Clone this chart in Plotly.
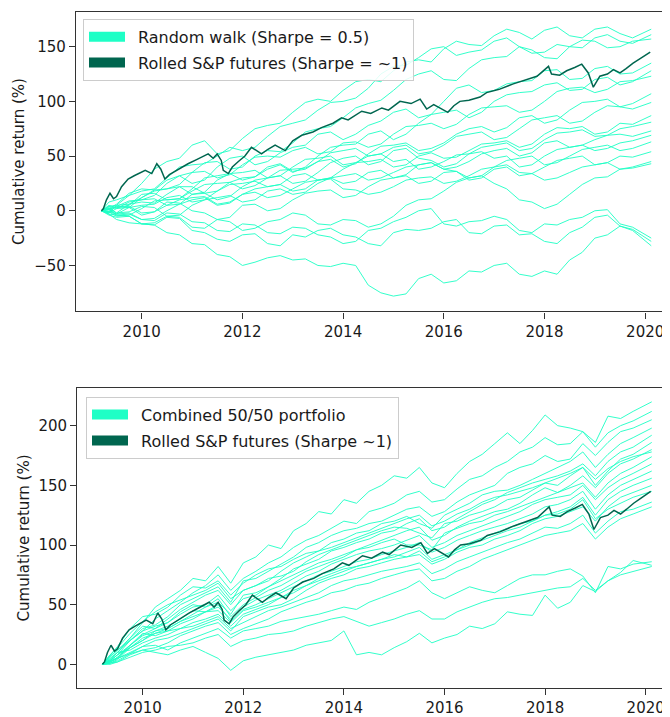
import plotly.graph_objects as go

# ---------------- data ----------------
SP_YEARS = [2009.20, 2009.24, 2009.30, 2009.37, 2009.44, 2009.50, 2009.60, 2009.73, 2009.85, 2010.07,
            2010.20, 2010.30, 2010.38, 2010.46, 2010.55, 2010.66, 2010.80, 2010.92, 2011.10, 2011.32,
            2011.42, 2011.50, 2011.58, 2011.62, 2011.72, 2011.80, 2011.92, 2012.05, 2012.18, 2012.38,
            2012.50, 2012.65, 2012.85, 2013.00, 2013.18, 2013.40, 2013.57, 2013.80, 2013.97, 2014.10,
            2014.37, 2014.55, 2014.77, 2014.90, 2015.13, 2015.35, 2015.53, 2015.66, 2015.80, 2015.92,
            2016.08, 2016.20, 2016.32, 2016.50, 2016.72, 2016.85, 2017.10, 2017.38, 2017.60, 2017.85,
            2018.08, 2018.14, 2018.30, 2018.44, 2018.60, 2018.74, 2018.87, 2018.97, 2019.10, 2019.25,
            2019.37, 2019.50, 2019.62, 2019.76, 2019.90, 2020.10]
SP_VALS = [0, 2, 10, 16, 11, 13, 22, 29, 32, 37,
           34, 43, 38, 29, 33, 36, 40, 43, 47, 52,
           48, 52, 46, 37, 34, 40, 45, 50, 58, 52,
           56, 60, 55, 64, 69, 72, 76, 80, 85, 83,
           91, 89, 94, 92, 100, 98, 102, 93, 97, 94,
           90, 96, 100, 101, 104, 108, 111, 116, 119, 123,
           132, 125, 124, 128, 131, 134, 126, 113, 123, 125,
           129, 126, 130, 135, 139, 145]

YEARS = [2009.2, 2009.35, 2009.5, 2009.75, 2010.0, 2010.25, 2010.5, 2010.75, 2011.0, 2011.25,
         2011.5, 2011.75, 2012.0, 2012.25, 2012.5, 2012.75, 2013.0, 2013.25, 2013.5, 2013.75,
         2014.0, 2014.25, 2014.5, 2014.75, 2015.0, 2015.25, 2015.5, 2015.75, 2016.0, 2016.25,
         2016.5, 2016.75, 2017.0, 2017.25, 2017.5, 2017.75, 2018.0, 2018.25, 2018.5, 2018.75,
         2019.0, 2019.25, 2019.5, 2019.75, 2020.12]

# top panel: random walks (Sharpe = 0.5)
T1 = [0, 8, 10, 14, 25, 38, 45, 48, 60, 64, 52, 55, 66, 75, 78, 80, 90, 99, 102, 100, 110, 118, 120, 118, 128, 136, 138, 136, 148, 155, 152, 151, 160, 166, 163, 157, 165, 168, 160, 158, 166, 168, 162, 158, 166]
T2 = [0, -2, 5, 14, 18, 20, 30, 40, 42, 43, 50, 58, 55, 58, 68, 77, 80, 83, 92, 99, 100, 103, 112, 125, 132, 133, 140, 148, 150, 142, 145, 147, 155, 158, 150, 144, 145, 152, 150, 149, 158, 161, 155, 153, 161]
T3 = [0, 4, 2, 3, 12, 19, 20, 24, 35, 44, 45, 38, 40, 50, 55, 54, 62, 72, 75, 77, 85, 94, 98, 101, 110, 120, 125, 128, 120, 119, 130, 138, 140, 141, 150, 147, 140, 139, 150, 156, 155, 149, 150, 155, 157]
T4 = [0, 2, 6, 16, 20, 19, 28, 32, 25, 28, 40, 48, 50, 42, 45, 53, 58, 60, 70, 72, 65, 70, 78, 82, 90, 93, 85, 88, 100, 112, 115, 108, 110, 116, 118, 119, 128, 129, 120, 121, 130, 132, 125, 126, 135]
T5 = [0, 3, -2, 6, 8, 7, 15, 22, 22, 16, 18, 26, 30, 31, 38, 42, 35, 40, 50, 58, 60, 61, 70, 73, 65, 70, 80, 88, 90, 92, 85, 90, 100, 106, 108, 109, 115, 117, 110, 111, 120, 122, 115, 118, 128]
T6 = [0, -1, 4, 9, 10, 14, 25, 32, 35, 36, 30, 33, 42, 49, 50, 49, 55, 58, 52, 54, 62, 63, 58, 61, 70, 77, 78, 80, 75, 79, 88, 94, 95, 96, 90, 92, 100, 109, 112, 113, 108, 111, 118, 119, 123]
T7 = [0, -1, -5, -4, 2, 9, 10, 11, 18, 24, 25, 26, 20, 23, 30, 37, 38, 39, 45, 47, 40, 43, 52, 59, 60, 62, 55, 57, 62, 70, 75, 77, 72, 76, 85, 87, 80, 83, 92, 99, 100, 102, 95, 98, 107]
T8 = [0, 5, 3, 5, 15, 16, 10, 11, 20, 30, 32, 34, 28, 31, 40, 43, 36, 38, 45, 53, 55, 57, 50, 52, 58, 60, 52, 54, 60, 68, 70, 72, 65, 67, 75, 83, 85, 87, 80, 82, 90, 96, 95, 93, 99]
T9 = [0, 1, -3, 3, 5, 6, 12, 14, 8, 10, 18, 24, 25, 27, 22, 24, 32, 34, 28, 30, 38, 44, 45, 47, 40, 42, 50, 53, 48, 49, 55, 61, 62, 64, 58, 61, 70, 76, 75, 77, 70, 72, 80, 79, 87]
T10 = [0, -2, 2, 8, 10, 11, 5, 6, 15, 16, 10, 13, 22, 28, 30, 32, 25, 27, 35, 44, 48, 50, 42, 45, 55, 57, 48, 46, 40, 43, 52, 58, 60, 62, 55, 57, 65, 71, 72, 74, 68, 69, 75, 77, 81]
T11 = [0, -3, -4, -3, -8, -7, 0, 6, 10, 12, 5, 7, 15, 17, 12, 14, 20, 26, 28, 30, 25, 27, 35, 37, 30, 33, 42, 44, 38, 40, 45, 52, 55, 57, 50, 53, 62, 64, 58, 60, 65, 69, 70, 68, 73]
T12 = [0, 4, 5, 6, 12, 18, 20, 22, 15, 17, 28, 34, 35, 37, 30, 32, 40, 47, 48, 50, 42, 44, 50, 52, 45, 47, 38, 40, 45, 51, 52, 54, 48, 50, 40, 42, 50, 56, 58, 60, 55, 57, 62, 64, 69]
T13 = [0, 2, -2, -1, 4, 3, -5, -4, 5, 10, 12, 14, 8, 10, 18, 20, 15, 17, 25, 30, 32, 34, 28, 30, 35, 40, 42, 44, 38, 36, 30, 32, 40, 46, 48, 50, 42, 44, 50, 56, 58, 60, 55, 57, 63]
T14 = [0, 1, 4, 3, -4, -1, 8, 7, 0, -2, -8, -6, 5, 6, 0, 2, 10, 16, 18, 19, 12, 14, 22, 28, 30, 32, 25, 27, 35, 36, 28, 30, 38, 40, 32, 34, 40, 46, 48, 50, 42, 44, 50, 49, 54]
T15 = [0, -4, -6, -5, -12, -11, -5, -6, -15, -16, -8, -10, -18, -16, -10, -8, -2, -4, -12, -13, -8, -9, -15, -12, -5, 5, 10, 11, 18, 26, 30, 32, 25, 20, 10, 8, 2, 6, 15, 24, 30, 31, 38, 40, 45]
T16 = [0, 2, 3, 4, -2, -1, 5, 10, 12, 13, 6, 8, 15, 20, 22, 24, 18, 20, 28, 29, 20, 19, 15, 17, 22, 28, 30, 31, 25, 27, 32, 38, 40, 42, 35, 34, 28, 30, 35, 40, 42, 44, 38, 39, 43]
T17 = [0, -1, -3, -2, -8, -9, -2, -3, -10, -11, -18, -19, -12, -13, -20, -21, -15, -16, -22, -24, -30, -28, -18, -16, -10, -6, 0, 2, -12, -14, -10, -9, -5, -8, -18, -20, -12, -13, -8, -6, 0, 1, -12, -15, -25]
T18 = [0, -3, -8, -11, -12, -13, -20, -22, -30, -31, -40, -42, -50, -47, -43, -41, -45, -44, -50, -51, -48, -50, -68, -75, -78, -76, -62, -58, -66, -64, -55, -56, -50, -48, -58, -60, -55, -58, -45, -38, -25, -22, -14, -17, -28]
T19 = [0, 1, -4, -5, -12, -13, -6, -7, -18, -20, -26, -28, -22, -21, -30, -32, -22, -24, -18, -16, -22, -24, -30, -32, -20, -17, -18, -16, -10, -8, -20, -21, -14, -13, -22, -21, -28, -30, -20, -15, -6, -4, -14, -18, -32]
TOP_WALKS = [T1, T2, T3, T4, T5, T6, T7, T8, T9, T10, T11, T12, T13, T14, T15, T16, T17, T18, T19]

# bottom panel: combined 50/50 portfolios
B1 = [0, 6, 12, 22, 35, 48, 55, 62, 72, 70, 82, 68, 85, 90, 100, 97, 112, 118, 128, 126, 138, 135, 145, 150, 158, 156, 165, 152, 148, 160, 170, 176, 185, 194, 185, 196, 209, 200, 198, 195, 186, 208, 206, 212, 220]
B2 = [0, 4, 10, 20, 28, 38, 45, 52, 60, 66, 75, 62, 72, 78, 85, 90, 98, 104, 108, 114, 120, 118, 128, 131, 135, 142, 145, 136, 138, 147, 155, 158, 165, 170, 178, 182, 190, 184, 185, 195, 182, 194, 200, 204, 212]
B3 = [0, 3, 8, 20, 30, 33, 40, 50, 55, 60, 65, 52, 70, 72, 78, 84, 90, 98, 102, 108, 112, 114, 118, 120, 125, 130, 132, 124, 128, 136, 142, 146, 150, 160, 165, 168, 175, 170, 172, 185, 175, 186, 195, 198, 205]
B4 = [0, 8, 15, 30, 40, 42, 48, 58, 65, 64, 70, 58, 68, 75, 80, 82, 88, 93, 95, 102, 105, 110, 112, 118, 120, 124, 118, 114, 125, 130, 135, 142, 145, 146, 150, 155, 160, 165, 170, 178, 165, 176, 185, 190, 198]
B5 = [0, 2, 6, 16, 25, 30, 35, 42, 48, 50, 58, 45, 55, 58, 65, 72, 80, 84, 88, 95, 98, 102, 105, 110, 112, 118, 122, 112, 115, 122, 128, 134, 138, 144, 148, 152, 155, 158, 162, 168, 158, 170, 178, 182, 192]
B6 = [0, 5, 10, 22, 32, 30, 38, 46, 52, 58, 62, 50, 62, 66, 72, 74, 78, 86, 92, 96, 100, 104, 108, 112, 115, 114, 110, 106, 118, 120, 125, 128, 132, 138, 140, 146, 152, 150, 158, 165, 150, 162, 172, 176, 186]
B7 = [0, 1, 4, 14, 22, 26, 30, 36, 42, 48, 55, 40, 50, 56, 62, 66, 72, 78, 82, 86, 90, 96, 100, 104, 108, 112, 115, 104, 108, 115, 120, 124, 128, 130, 135, 142, 148, 144, 150, 158, 148, 160, 168, 172, 180]
B8 = [0, 7, 12, 20, 28, 32, 35, 44, 50, 48, 52, 42, 58, 60, 65, 70, 75, 80, 85, 88, 92, 96, 98, 102, 105, 100, 100, 96, 110, 114, 118, 120, 125, 128, 132, 136, 140, 144, 148, 152, 140, 152, 160, 165, 174]
B9 = [0, 3, 8, 14, 20, 28, 32, 38, 45, 44, 48, 38, 48, 54, 58, 62, 68, 74, 78, 84, 88, 92, 95, 97, 100, 104, 108, 98, 102, 108, 112, 116, 120, 124, 128, 134, 138, 140, 142, 150, 138, 148, 155, 160, 168]
B10 = [0, 2, 5, 16, 26, 24, 28, 34, 38, 44, 50, 36, 46, 50, 55, 60, 65, 70, 75, 78, 82, 86, 88, 92, 95, 98, 102, 94, 98, 104, 108, 112, 115, 118, 122, 126, 132, 134, 138, 145, 130, 142, 150, 155, 162]
B11 = [0, 4, 10, 12, 18, 22, 25, 30, 35, 38, 42, 32, 42, 46, 50, 56, 62, 66, 70, 74, 78, 82, 85, 88, 92, 90, 95, 86, 90, 96, 102, 106, 110, 114, 118, 120, 125, 128, 132, 140, 125, 138, 145, 150, 156]
B12 = [0, 1, 3, 9, 15, 20, 22, 26, 30, 34, 38, 28, 40, 44, 48, 50, 55, 62, 68, 72, 75, 80, 82, 85, 88, 90, 92, 84, 88, 94, 98, 100, 105, 108, 112, 118, 122, 124, 128, 132, 120, 132, 140, 144, 150]
B13 = [0, 2, 6, 14, 20, 26, 28, 30, 32, 36, 40, 30, 35, 40, 45, 48, 52, 56, 60, 66, 70, 72, 75, 78, 80, 82, 85, 76, 80, 86, 90, 94, 98, 102, 105, 110, 115, 114, 118, 125, 110, 120, 128, 130, 136]
B14 = [0, 0, 2, 8, 12, 14, 18, 24, 28, 32, 35, 25, 30, 34, 38, 44, 48, 52, 55, 60, 62, 66, 68, 72, 75, 78, 80, 70, 72, 78, 82, 88, 92, 96, 100, 104, 108, 110, 112, 118, 105, 115, 122, 126, 132]
B15 = [0, 2, 5, 10, 15, 16, 12, 18, 22, 26, 30, 22, 28, 30, 32, 36, 38, 40, 42, 45, 48, 46, 52, 56, 60, 64, 70, 60, 55, 60, 65, 62, 60, 66, 72, 75, 75, 78, 80, 74, 60, 82, 80, 84, 86]
B16 = [0, 1, 2, 6, 10, 12, 15, 16, 18, 22, 25, 15, 20, 22, 25, 26, 28, 32, 35, 38, 40, 36, 32, 35, 38, 42, 45, 38, 38, 44, 48, 52, 55, 56, 58, 60, 62, 64, 65, 72, 62, 70, 75, 78, 82]
B17 = [0, 3, 5, 9, 12, 10, 8, 12, 15, 10, 5, -5, 3, 6, 8, 10, 12, 16, 18, 20, 28, 8, 10, 8, 14, 19, 26, 18, 22, 25, 32, 30, 34, 44, 42, 41, 58, 47, 52, 66, 61, 70, 77, 87, 83]
B18 = [0, 3, 8, 16, 24, 28, 30, 36, 40, 44, 45, 35, 45, 48, 52, 56, 60, 66, 72, 76, 80, 82, 85, 88, 90, 94, 98, 88, 92, 96, 100, 104, 108, 112, 115, 120, 125, 126, 130, 138, 122, 130, 135, 140, 145]
B19 = [0, 8, 14, 26, 36, 44, 50, 54, 58, 62, 68, 55, 62, 66, 70, 78, 85, 90, 95, 98, 102, 106, 110, 114, 118, 122, 125, 116, 120, 126, 130, 136, 140, 142, 145, 148, 152, 156, 160, 165, 155, 164, 170, 174, 178]
BOT_WALKS = [B1, B2, B3, B4, B5, B6, B7, B8, B9, B10, B11, B12, B13, B14, B15, B16, B17, B18, B19]

X_TICKS = [2010, 2012, 2014, 2016, 2018, 2020]
X_TICK_TEXT = ["2010", "2012", "2014", "2016", "2018", "2020"]
TOP_Y_TICKS = [-50, 0, 50, 100, 150]
BOT_Y_TICKS = [0, 50, 100, 150, 200]

LIGHT = "#1effc6"
DARK = "#00664f"
FONT = "DejaVu Sans"
TXT = "#1a1a1a"
# the page body adds an 8 px offset, so the figure is 8 px smaller than the window
OFF = 8
W, H = 670 - OFF, 717 - OFF

fig = go.Figure()

for w in TOP_WALKS:
    fig.add_trace(go.Scatter(x=YEARS, y=w, mode="lines", line=dict(color=LIGHT, width=1),
                             opacity=0.9, showlegend=False, hoverinfo="skip", xaxis="x", yaxis="y"))
fig.add_trace(go.Scatter(x=SP_YEARS, y=SP_VALS, mode="lines", line=dict(color=DARK, width=1.5),
                         showlegend=False, xaxis="x", yaxis="y"))
for w in BOT_WALKS:
    fig.add_trace(go.Scatter(x=YEARS, y=w, mode="lines", line=dict(color=LIGHT, width=1),
                             opacity=0.9, showlegend=False, hoverinfo="skip", xaxis="x2", yaxis="y2"))
fig.add_trace(go.Scatter(x=SP_YEARS, y=SP_VALS, mode="lines", line=dict(color=DARK, width=1.5),
                         showlegend=False, xaxis="x2", yaxis="y2"))

# legend entries
SP = "\u2002"
fig.add_trace(go.Scatter(x=[None], y=[None], mode="lines", line=dict(color=LIGHT, width=12),
                         name=SP + "Random walk (Sharpe = 0.5)", legend="legend", legendgroup="a",
                         xaxis="x", yaxis="y"))
fig.add_trace(go.Scatter(x=[None], y=[None], mode="lines", line=dict(color=DARK, width=12),
                         name=SP + "Rolled S&P futures (Sharpe = ~1)", legend="legend", legendgroup="b",
                         xaxis="x", yaxis="y"))
fig.add_trace(go.Scatter(x=[None], y=[None], mode="lines", line=dict(color=LIGHT, width=12),
                         name=SP + "Combined 50/50 portfolio", legend="legend2", legendgroup="c",
                         xaxis="x2", yaxis="y2"))
fig.add_trace(go.Scatter(x=[None], y=[None], mode="lines", line=dict(color=DARK, width=12),
                         name=SP + "Rolled S&P futures (Sharpe ~1)", legend="legend2", legendgroup="d",
                         xaxis="x2", yaxis="y2"))

axcol = "#333333"
def xax(domain, rng, anchor):
    return dict(domain=domain, range=rng, anchor=anchor, tickvals=X_TICKS, ticktext=X_TICK_TEXT,
                showgrid=False, zeroline=False, showline=True, linecolor=axcol, linewidth=1.3,
                mirror=True, ticks="outside", ticklen=6, tickcolor=axcol, tickwidth=1.2,
                tickfont=dict(family=FONT, size=15, color=TXT))

def yax(domain, rng, anchor, ticks):
    return dict(domain=domain, range=rng, anchor=anchor, tickvals=ticks,
                showgrid=False, zeroline=False, showline=True, linecolor=axcol, linewidth=1.3,
                mirror=False, ticks="outside", ticklen=6, tickcolor=axcol, tickwidth=1.2,
                tickfont=dict(family=FONT, size=15, color=TXT),
                title=dict(text="Cumulative return (%)", font=dict(family=FONT, size=15, color=TXT),
                           standoff=5))

legend_common = dict(bgcolor="rgba(255,255,255,0.85)", bordercolor="#cccccc", borderwidth=1,
                     font=dict(family=FONT, size=16, color=TXT), xanchor="left", yanchor="top",
                     itemwidth=36, tracegroupgap=2, traceorder="grouped", itemclick=False)

# positions below are page pixels of the reference, shifted by OFF
def px(v):
    return (v - OFF) / W

def py(v):
    return 1 - (v - OFF) / H

fig.update_layout(
    width=W, height=H, margin=dict(l=0, r=0, t=0, b=0),
    paper_bgcolor="white", plot_bgcolor="white",
    xaxis=xax([px(76), 1.0], [2008.695, 2020.493], "y"),
    yaxis=yax([py(314), py(11.7)], [-92, 182], "x", TOP_Y_TICKS),
    xaxis2=xax([px(77.3), 1.0], [2008.70, 2020.483], "y2"),
    yaxis2=yax([py(693.3), py(391.7)], [-19.4, 231.2], "x2", BOT_Y_TICKS),
    legend=dict(x=px(83), y=py(19), **legend_common),
    legend2=dict(x=px(86), y=py(400), **legend_common),
    showlegend=True,
)

fig.write_html("out.html")
